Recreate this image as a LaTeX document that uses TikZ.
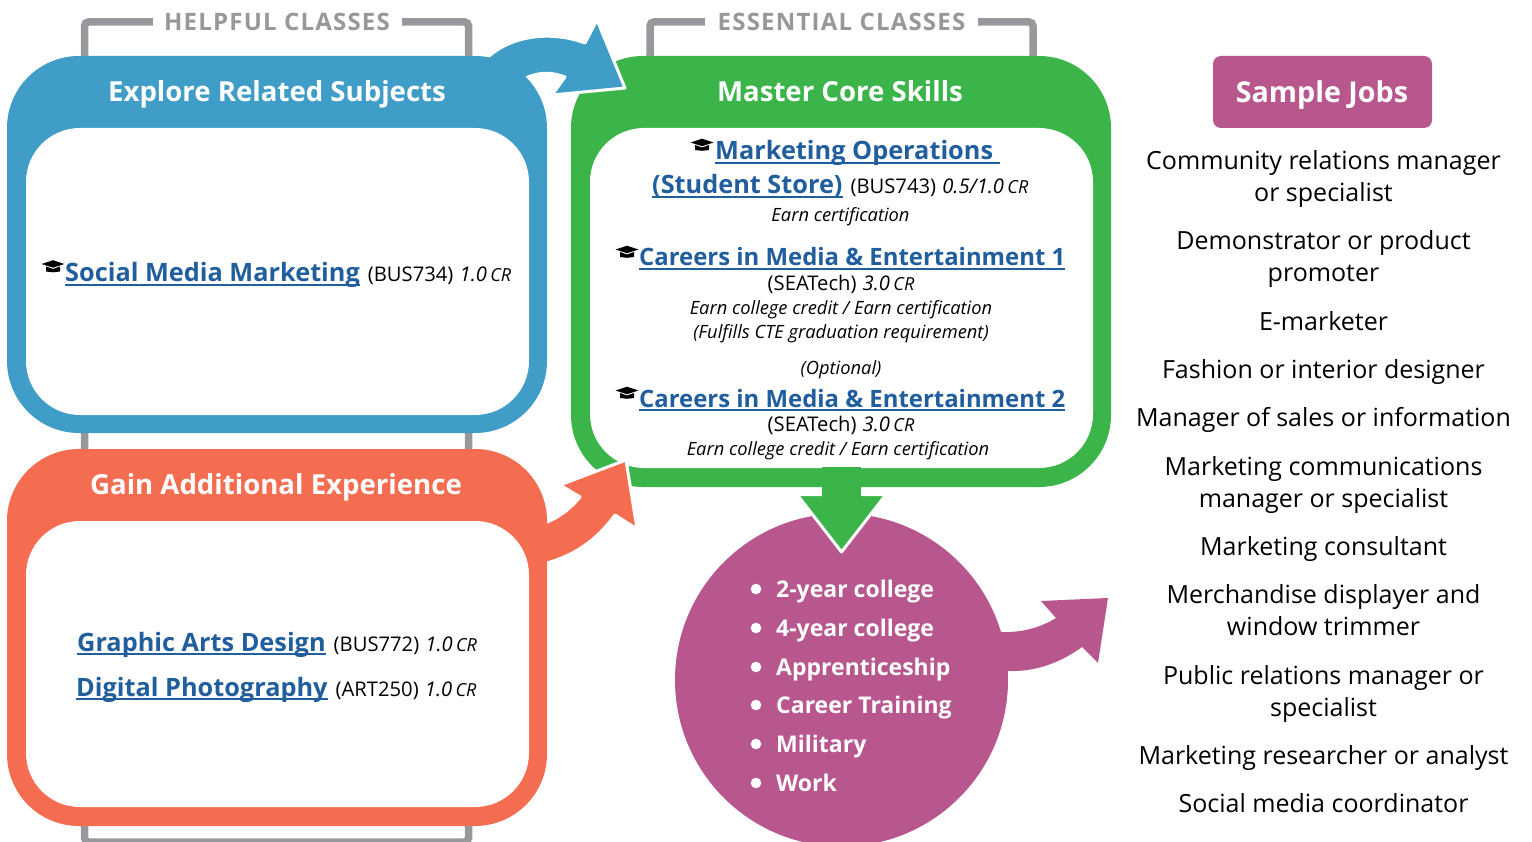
\documentclass[tikz,border=0pt]{standalone}
\usepackage{fontspec}
\setmainfont{Open Sans}
\usetikzlibrary{arrows}
\definecolor{ringblue}{HTML}{3F9DC7}
\definecolor{ringgreen}{HTML}{3BB54A}
\definecolor{ringorange}{HTML}{F56D51}
\definecolor{ringpurple}{HTML}{B8578D}
\definecolor{bracketgray}{HTML}{97989C}
\definecolor{linkblue}{HTML}{215E9E}
\newcommand{\lnk}[2][25.3]{\sbox0{\color{linkblue}\fontsize{#1}{28}\selectfont\bfseries #2}{\color{linkblue}\rlap{\rule[-3.8pt]{\wd0}{2pt}}}\usebox0\kern2.8pt\relax}
\newcommand{\cred}[1]{{\kern1pt\itshape #1\,{\fontsize{18}{20}\selectfont CR}}}

\begin{document}
\begin{tikzpicture}[x=1pt,y=-1pt,
  ring/.style={inner sep=0pt,rounded corners=72pt},
  hole/.style={fill=white,inner sep=0pt,rounded corners=54pt,minimum width=503pt},
  bracket/.style={draw=bracketgray,line width=7.5pt,rounded corners=4pt},
  bar/.style={fill=white,text=bracketgray,inner sep=0pt,minimum height=30pt,font=\fontsize{24}{26}\selectfont\bfseries\addfontfeature{LetterSpace=5}},
  heading/.style={text=white,font=\fontsize{27.6}{30}\selectfont\bfseries,anchor=base},
  course/.style={anchor=base west,inner sep=0pt,font=\fontsize{20.2}{23}\selectfont},
  midline/.style={anchor=base,inner sep=0pt,font=\fontsize{20.2}{23}\selectfont},
  note/.style={anchor=base,inner sep=0pt,font=\fontsize{18.3}{21}\selectfont\itshape},
  outcome/.style={anchor=base west,inner sep=0pt,text=white,font=\fontsize{23}{26}\selectfont\bfseries},
  job/.style={anchor=base,inner sep=0pt,font=\fontsize{25}{28}\selectfont},
  pics/capicon/.style={code={
    \fill (-11.5,-2.5) -- (0,-6.3) -- (11.5,-2.5) -- (0,1.2) -- cycle;
    \fill (-7,0) -- (0,2.5) -- (7,0) -- (7,5) -- (0,5.8) -- (-7,5) -- cycle;}}]
  \useasboundingbox (0,0) rectangle (1532,842);
  \clip (0,0) rectangle (1532,842);
  \draw [bracket] (84.5,842) -- (84.5,22) -- (468.5,22) -- (468.5,842) -- cycle;
  \draw [bracket] (650,70) -- (650,22) -- (1033,22) -- (1033,70);
  \node [bar,minimum width=249pt] (helpful) at (277,22) {HELPFUL CLASSES};
  \node [bar,minimum width=273pt] (essential) at (841.5,22) {ESSENTIAL CLASSES};

  \node [ring,fill=ringgreen,minimum width=540pt,minimum height=431pt] (core) at (841,271.5) {};
  \node [hole,minimum height=340pt] (corein) at (841.5,298) {};
  \filldraw [fill=ringblue,draw=white,line width=3pt,line join=round]
    (487,58) .. controls (510,36) and (550,30) .. (585,43) -- (597,20) -- (625,88)
    -- (552,95) -- (565,77) .. controls (552,72) and (540,72) .. (528,77) -- (500,90) -- cycle;
  \filldraw [fill=ringorange,draw=white,line width=3pt,line join=round]
    (547,522) .. controls (560,517) and (572,507) .. (580,497) -- (560,485) -- (626,460)
    -- (637,529) -- (615,515) .. controls (597,540) and (575,555) .. (547,563) -- (530,540) -- cycle;
  \node [ring,fill=ringblue,minimum width=540pt,minimum height=377pt] (related) at (277,244.5) {};
  \node [hole,minimum height=287pt] (relatedin) at (277.5,271.5) {};
  \node [ring,fill=ringorange,minimum width=540pt,minimum height=377pt] (extra) at (277,637.5) {};
  \node [hole,minimum height=286pt] (extrain) at (277.5,664) {};

  \fill [ringpurple] (1000,632) .. controls (1020,633) and (1040,628) .. (1056,618) -- (1041,601)
    -- (1108,598) -- (1098,663) -- (1082,647) .. controls (1060,663) and (1035,672) .. (1008,671)
    -- (990,660) -- cycle;
  \node [circle,fill=ringpurple,inner sep=0pt,minimum size=333pt] (after) at (841.5,680) {};
  \filldraw [fill=ringgreen,draw=white,line width=3pt,line join=round]
    (797,494.5) -- (886,494.5) -- (841.5,552) -- cycle;
  \fill [ringgreen] (822,467) rectangle (861,498);

  \node [heading] (relatedtitle) at (277,102) {Explore Related Subjects};
  \node [heading] (coretitle) at (840,102) {Master Core Skills};
  \node [heading] (extratitle) at (276,494.5) {Gain Additional Experience};

  \pic at (53,266.5) {capicon};
  \pic at (702,145) {capicon};
  \pic at (627,252) {capicon};
  \pic at (627,393) {capicon};

  \node [course] (social) at (65,282) {\lnk{Social Media Marketing} (BUS734) \cred{1.0}};
  \node [course] (graphic) at (77,651) {\lnk{Graphic Arts Design} (BUS772) \cred{1.0}};
  \node [course] (photo) at (76,696) {\lnk{Digital Photography} (ART250) \cred{1.0}};

  \node [course] (market) at (715,160) {\lnk{Marketing Operations\ }};
  \node [course] (store) at (652,194) {\lnk{(Student Store)} (BUS743) \cred{0.5/1.0}};
  \node [note] (certa) at (840.5,222) {Earn certification};
  \node [course] (mediaa) at (639,266) {\lnk[23.9]{Careers in Media \& Entertainment 1}};
  \node [midline] (seata) at (841,291) {(SEATech) \cred{3.0}};
  \node [note] (credita) at (841,315) {Earn college credit / Earn certification};
  \node [note] (fulfil) at (841,339) {(Fulfills CTE graduation requirement)};
  \node [note] (option) at (841,374) {(Optional)};
  \node [course] (mediab) at (639,407) {\lnk[23.9]{Careers in Media \& Entertainment 2}};
  \node [midline] (seatb) at (841,431) {(SEATech) \cred{3.0}};
  \node [note] (creditb) at (838,455) {Earn college credit / Earn certification};

  \foreach \ty/\txt [count=\n] in {589/2-year college,628/4-year college,667/Apprenticeship,705/Career Training,744/Military,783/Work} {
    \fill [white] (756,\ty) circle (5.3);
    \node [outcome] (outcome\n) at (776,\ty+8) {\txt};
  }

  \node [fill=ringpurple,rounded corners=8pt,inner sep=0pt,minimum width=219pt,minimum height=72pt] (jobs) at (1322.5,92) {};
  \node [heading,font=\fontsize{28.7}{30}\selectfont\bfseries] (jobstitle) at (1322,103) {Sample Jobs};
  \foreach \ty/\txt [count=\n] in {170/Community relations manager,202/or specialist,250/Demonstrator or product,282/promoter,331/E-marketer,378/Fashion or interior designer,426/Manager of sales or information,475/Marketing communications,507/manager or specialist,555/Marketing consultant,603/Merchandise displayer and,635/window trimmer,684/Public relations manager or,716/specialist,764/Marketing researcher or analyst,812/Social media coordinator} {
    \node [job] (job\n) at (1323.5,\ty) {\txt};
  }
\end{tikzpicture}
\end{document}
